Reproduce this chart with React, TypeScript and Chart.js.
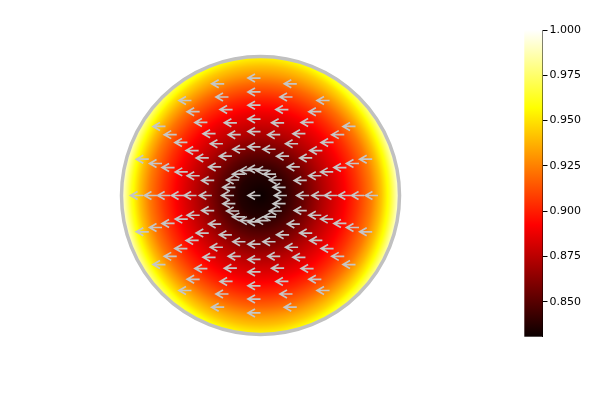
import React, { useEffect, useRef } from "react";
import { Chart, registerables } from "chart.js";

Chart.register(...registerables);

// Radial profile of the heat field (normalised radius 0..1), read along the horizontal and vertical diameters
const profileRadius = [0, 0.15, 0.3, 0.45, 0.6, 0.7, 0.8, 0.87, 0.93, 1.0];
const profileValueHorizontal = [0.831, 0.837, 0.853, 0.873, 0.891, 0.906, 0.924, 0.942, 0.962, 0.997];
const profileValueVertical = [0.831, 0.837, 0.853, 0.873, 0.889, 0.902, 0.918, 0.931, 0.941, 0.956];

// Quiver grid: rings x spokes, every arrow has the same vector
const arrowRingRadius = [0, 0.19, 0.35, 0.46, 0.55, 0.65, 0.745, 0.845];
const arrowAngleDeg = [0, 18, 36, 54, 72, 90, 108, 126, 144, 162, 180, 198, 216, 234, 252, 270, 288, 306, 324, 342];
const arrowU = -0.09;
const arrowV = 0;

// Colour bar
const colorbarMin = 0.8307;
const colorbarMax = 1.0;
const colorbarTicks = [0.85, 0.875, 0.9, 0.925, 0.95, 0.975, 1.0];

function hot(p: number): [number, number, number] {
  const c = (t: number) => Math.max(0, Math.min(1, t));
  const r = 0.0416 + (1 - 0.0416) * c(p / 0.365079);
  const g = c((p - 0.365079) / (0.746032 - 0.365079));
  const b = c((p - 0.746032) / (1 - 0.746032));
  return [Math.round(r * 255), Math.round(g * 255), Math.round(b * 255)];
}

function interp(xs: number[], ys: number[], x: number): number {
  if (x <= xs[0]) return ys[0];
  for (let i = 1; i < xs.length; i++) {
    if (x <= xs[i]) {
      const t = (x - xs[i - 1]) / (xs[i] - xs[i - 1]);
      return ys[i - 1] + t * (ys[i] - ys[i - 1]);
    }
  }
  return ys[ys.length - 1];
}

const arrowTails: { x: number; y: number }[] = [];
arrowRingRadius.forEach((r) => {
  if (r === 0) {
    arrowTails.push({ x: 0, y: 0 });
  } else {
    arrowAngleDeg.forEach((a) => {
      const t = (a * Math.PI) / 180;
      arrowTails.push({ x: r * Math.cos(t), y: r * Math.sin(t) });
    });
  }
});

const polarPlugin = {
  id: "polarHeat",
  beforeDatasetsDraw(chart: any) {
    const ctx: CanvasRenderingContext2D = chart.ctx;
    const xs = chart.scales.x;
    const ys = chart.scales.y;
    const cb = chart.scales.cb;
    const cx = xs.getPixelForValue(0);
    const cy = ys.getPixelForValue(0);
    const R = xs.getPixelForValue(1) - cx;

    // heat field
    const x0 = Math.floor(cx - R - 2);
    const y0 = Math.floor(cy - R - 2);
    const w = Math.ceil(2 * R + 4);
    const h = Math.ceil(2 * R + 4);
    const off = document.createElement("canvas");
    off.width = w;
    off.height = h;
    const octx = off.getContext("2d")!;
    const img = octx.createImageData(w, h);
    for (let j = 0; j < h; j++) {
      const dy = ys.getValueForPixel(y0 + j + 0.5);
      for (let i = 0; i < w; i++) {
        const dx = xs.getValueForPixel(x0 + i + 0.5);
        const rho = Math.sqrt(dx * dx + dy * dy);
        if (rho > 1.005) continue;
        const c2 = rho > 0 ? (dx * dx) / (rho * rho) : 1;
        const v =
          interp(profileRadius, profileValueHorizontal, rho) * c2 +
          interp(profileRadius, profileValueVertical, rho) * (1 - c2);
        const p = (v - cb.min) / (cb.max - cb.min);
        const [r, g, b] = hot(p);
        const k = (j * w + i) * 4;
        img.data[k] = r;
        img.data[k + 1] = g;
        img.data[k + 2] = b;
        img.data[k + 3] = 255;
      }
    }
    octx.putImageData(img, 0, 0);
    ctx.save();
    ctx.drawImage(off, x0, y0);

    // disk outline
    ctx.beginPath();
    ctx.arc(cx, cy, R, 0, Math.PI * 2);
    ctx.strokeStyle = "#c0c0c0";
    ctx.lineWidth = 3.5;
    ctx.stroke();

    // colour bar
    const yb = cb.getPixelForValue(cb.min);
    const yt = cb.getPixelForValue(cb.max);
    const right = chart.chartArea.right;
    const grad = ctx.createLinearGradient(0, yb, 0, yt);
    const stops = [0, 0.365079, 0.746032, 1];
    stops.forEach((s) => {
      const [r, g, b] = hot(s);
      grad.addColorStop(s, `rgb(${r},${g},${b})`);
    });
    ctx.fillStyle = grad;
    ctx.fillRect(right - 18.2, yt, 18.2, yb - yt);
    ctx.restore();
  },
  afterDatasetsDraw(chart: any) {
    const ctx: CanvasRenderingContext2D = chart.ctx;
    const xs = chart.scales.x;
    const ys = chart.scales.y;
    ctx.save();
    ctx.strokeStyle = "#c6c6c6";
    ctx.lineWidth = 1.7;
    ctx.lineCap = "butt";
    arrowTails.forEach((pt) => {
      const tx = xs.getPixelForValue(pt.x);
      const ty = ys.getPixelForValue(pt.y);
      const hx = xs.getPixelForValue(pt.x + arrowU);
      const hy = ys.getPixelForValue(pt.y + arrowV);
      const len = Math.hypot(hx - tx, hy - ty) || 1;
      const ux = (hx - tx) / len;
      const uy = (hy - ty) / len;
      const back = 7;
      const side = 4;
      ctx.beginPath();
      ctx.moveTo(tx, ty);
      ctx.lineTo(hx, hy);
      ctx.moveTo(hx - ux * back - uy * side, hy - uy * back + ux * side);
      ctx.lineTo(hx, hy);
      ctx.lineTo(hx - ux * back + uy * side, hy - uy * back - ux * side);
      ctx.stroke();
    });
    ctx.restore();
  },
};

export default function App() {
  const ref = useRef<HTMLCanvasElement | null>(null);
  useEffect(() => {
    if (!ref.current) return;
    const pxPerUnit = 139;
    const cxPx = 260.5;
    const cyPx = 195.5;
    const top = 30;
    const bottom = 336.7;
    const areaRight = 542.5;
    const chart = new Chart(ref.current, {
      type: "scatter",
      data: {
        datasets: [
          {
            data: arrowTails,
            pointRadius: 0,
            showLine: false,
            xAxisID: "x",
            yAxisID: "y",
          },
        ],
      },
      options: {
        responsive: false,
        animation: false,
        events: [],
        layout: { padding: { top: top, bottom: 400 - bottom, left: 0, right: 0 } },
        plugins: { legend: { display: false }, tooltip: { enabled: false } },
        scales: {
          x: {
            type: "linear",
            display: false,
            min: -cxPx / pxPerUnit,
            max: (areaRight - cxPx) / pxPerUnit,
          },
          y: {
            type: "linear",
            display: false,
            min: -(bottom - cyPx) / pxPerUnit,
            max: (cyPx - top) / pxPerUnit,
          },
          cb: {
            type: "linear",
            position: "right",
            min: colorbarMin,
            max: colorbarMax,
            afterFit: (s: any) => {
              s.width = 600 - areaRight;
            },
            afterBuildTicks: (s: any) => {
              s.ticks = colorbarTicks.map((v) => ({ value: v }));
            },
            ticks: {
              callback: (v: any) => Number(v).toFixed(3),
              font: { family: "DejaVu Sans", size: 11 },
              color: "#000",
              padding: 2,
            },
            grid: { drawOnChartArea: false, tickLength: 5, color: "#000" },
            border: { display: true, color: "#000", width: 1 },
          } as any,
        },
      },
      plugins: [polarPlugin],
    });
    return () => chart.destroy();
  }, []);
  return (
    <div style={{ position: "fixed", left: 0, top: 0, width: 600, height: 400, background: "#fff" }}>
      <canvas ref={ref} width={600} height={400} />
    </div>
  );
}
